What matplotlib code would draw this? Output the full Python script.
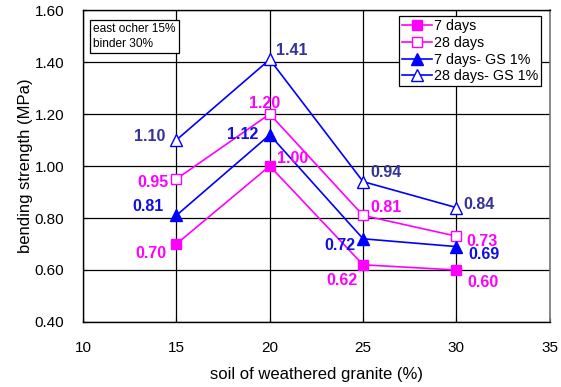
import matplotlib
matplotlib.use("Agg")
import matplotlib.pyplot as plt

plt.rcParams['font.family'] = ['Liberation Sans', 'DejaVu Sans']

x = [15, 20, 25, 30]
days7 = [0.70, 1.00, 0.62, 0.60]
days28 = [0.95, 1.20, 0.81, 0.73]
days7_gs = [0.81, 1.12, 0.72, 0.69]
days28_gs = [1.10, 1.41, 0.94, 0.84]
series_names = ["7 days", "28 days", "7 days- GS 1%", "28 days- GS 1%"]

xticks = [10, 15, 20, 25, 30, 35]
yticks = [0.40, 0.60, 0.80, 1.00, 1.20, 1.40, 1.60]

MAG = "#ff00ff"
BLUE = "#0000ff"
LBL_BLUE = "#1010e0"
LBL_NAVY = "#333399"

fig = plt.figure(figsize=(5.61, 3.87), dpi=100)
ax = fig.add_axes([0.148, 0.168, 0.832, 0.806])

lw = 1.2
ax.plot(x, days7, color=MAG, lw=lw, marker='s', ms=7, mfc=MAG, mec=MAG, label=series_names[0], zorder=3)
ax.plot(x, days28, color=MAG, lw=lw, marker='s', ms=7, mfc='white', mec=MAG, mew=1.0, label=series_names[1], zorder=3)
ax.plot(x, days7_gs, color=BLUE, lw=lw, marker='^', ms=8, mfc=BLUE, mec=BLUE, label=series_names[2], zorder=3)
ax.plot(x, days28_gs, color=BLUE, lw=lw, marker='^', ms=8, mfc='white', mec=BLUE, mew=1.0, label=series_names[3], zorder=3)

# label offsets in pixels (dx, dy) relative to points
off7 = [(-25, -9), (23, 8), (-21, -16), (27, -13)]
off28 = [(-23, -3), (-5, 11), (23, 8), (26, -5)]
off7gs = [(-28, 9), (-27, 0), (-23, -7), (28, -8)]
off28gs = [(-27, 4), (22, 9), (23, 9), (23, 3)]

def annotate(vals, offs, color):
    for xi, v, (dx, dy) in zip(x, vals, offs):
        ax.annotate(f"{v:.2f}", (xi, v), xytext=(dx, dy), textcoords='offset pixels',
                    ha='center', va='center', color=color, fontsize=11.5, fontweight='bold', zorder=4)

annotate(days7, off7, MAG)
annotate(days28, off28, MAG)
annotate(days7_gs, off7gs, LBL_BLUE)
annotate(days28_gs, off28gs, LBL_NAVY)

ax.set_xlim(10, 35)
ax.set_ylim(0.40, 1.60)
ax.set_xticks(xticks)
ax.set_yticks(yticks)
ax.set_xticklabels([str(t) for t in xticks])
ax.set_yticklabels([f"{t:.2f}" for t in yticks])
ax.tick_params(labelsize=11, length=3, direction='in')
ax.tick_params(axis='x', pad=14)
ax.tick_params(axis='y', pad=13.5)
ax.grid(True, color='black', lw=0.9)
ax.set_axisbelow(True)
for s in ['left', 'bottom', 'top']:
    ax.spines[s].set_color('black')
    ax.spines[s].set_linewidth(1.0)
ax.spines['right'].set_color('#777777')
ax.spines['right'].set_linewidth(1.2)

ax.set_xlabel("soil of weathered granite (%)", fontsize=12, labelpad=8)
ax.set_ylabel("bending strength (MPa)", fontsize=12, labelpad=1)

leg = ax.legend(loc='upper right', bbox_to_anchor=(0.981, 0.981), fontsize=10.3, frameon=True,
                fancybox=False, edgecolor='black', framealpha=1, handlelength=2.1,
                handletextpad=0.1, borderpad=0.2, labelspacing=0.2, borderaxespad=0)
leg.get_frame().set_linewidth(0.9)

ax.text(0.022, 0.958, "east ocher 15%\nbinder 30%", transform=ax.transAxes, fontsize=8.6,
        va='top', ha='left', linespacing=1.3,
        bbox=dict(boxstyle='square,pad=0.3', fc='white', ec='black', lw=0.9))

fig.savefig("out.png", dpi=100)
